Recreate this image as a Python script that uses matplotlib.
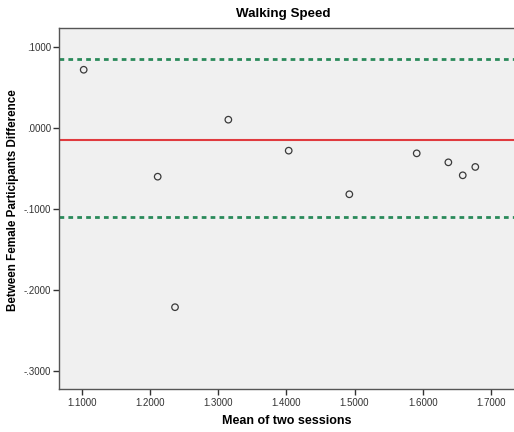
import numpy as np
import matplotlib
matplotlib.use("Agg")
import matplotlib.pyplot as plt
from matplotlib.ticker import FuncFormatter

plt.rcParams['font.family'] = ['Liberation Sans', 'DejaVu Sans']

# data
mean_sessions = [1.1029, 1.3150, 1.4035, 1.2114, 1.2368, 1.5912, 1.6376, 1.6771, 1.6587, 1.4924]
difference = [0.0716, 0.0100, -0.0282, -0.0603, -0.2213, -0.0315, -0.0426, -0.0483, -0.0586, -0.0820]
bias = -0.0145
upper_loa = 0.0845
lower_loa = -0.1096
x_ticks = [1.1, 1.2, 1.3, 1.4, 1.5, 1.6, 1.7]
y_ticks = [0.1, 0.0, -0.1, -0.2, -0.3]


def spss_fmt(v, pos=None):
    s = f"{v:.4f}"
    if s.startswith("-0"):
        s = "-" + s[2:]
    elif s.startswith("0"):
        s = s[1:]
    if s == "-.0000":
        s = ".0000"
    return s


fig = plt.figure(figsize=(5.14, 4.32), dpi=100)
W, H = 514, 432
# axes spans from x=59 to past the right edge (cropped), y=28..389
ax = fig.add_axes([59 / W, 1 - 389 / H, 470 / W, (389 - 28) / H])
ax.set_facecolor('#f0f0f0')

ax.scatter(mean_sessions, difference, s=22, facecolors='none', edgecolors='#3a3a3a',
           linewidths=0.9, zorder=3)
ax.axhline(bias, color='#e03a3e', lw=1.5, zorder=2)
ax.axhline(upper_loa, color='#2a8a5a', lw=2.0, ls=(0, (1.7, 1.5)), zorder=2)
ax.axhline(lower_loa, color='#2a8a5a', lw=2.0, ls=(0, (1.7, 1.5)), zorder=2)

ax.set_xlim(1.0667, 1.0667 + 470 / 682)
ax.set_ylim(-0.3222, 0.1231)
ax.set_xticks(x_ticks)
ax.set_yticks(y_ticks)
ax.xaxis.set_major_formatter(FuncFormatter(spss_fmt))
ax.yaxis.set_major_formatter(FuncFormatter(spss_fmt))
ax.tick_params(axis='both', labelsize=7, colors='#333333', length=4, width=1, direction='out')
ax.tick_params(axis='x', pad=2.5)
ax.tick_params(axis='y', pad=1.5)

for side in ['top', 'bottom', 'left', 'right']:
    ax.spines[side].set_color('#555555')
    ax.spines[side].set_linewidth(1)

fig.text(283 / W, 1 - 14 / H, "Walking Speed", ha='center', va='center',
         fontsize=9.6, fontweight='bold')
fig.text(287 / W, 1 - 421 / H, "Mean of two sessions", ha='center', va='center',
         fontsize=9, fontweight='bold')
fig.text(13 / W, 1 - 200 / H, "Between Female Participants Difference", ha='center',
         va='center', rotation=90, fontsize=8.4, fontweight='bold')

fig.savefig("out.png", dpi=100, facecolor='white')
